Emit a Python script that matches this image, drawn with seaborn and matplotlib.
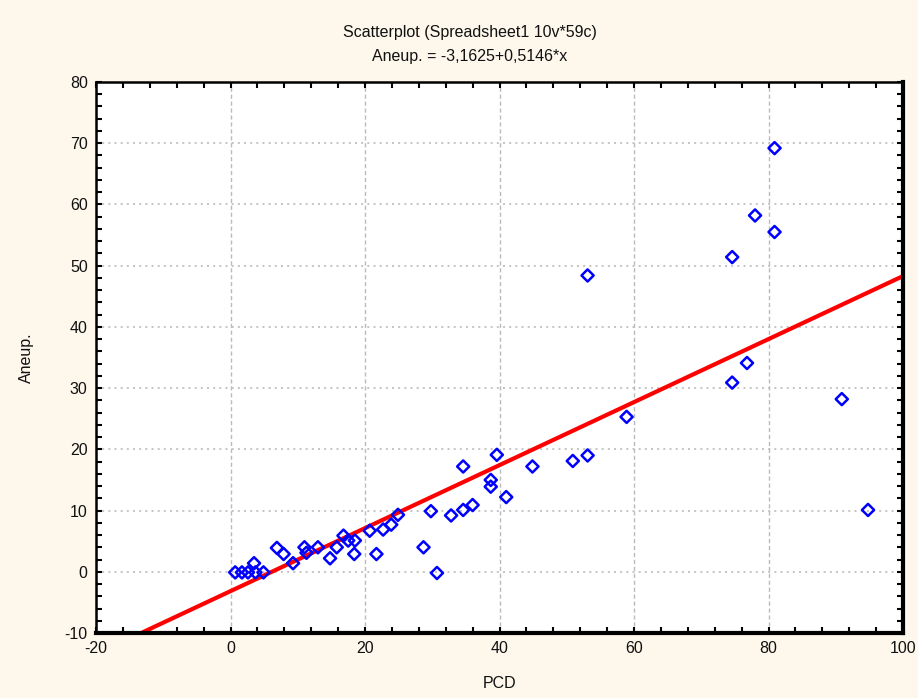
import numpy as np
import pandas as pd
import matplotlib
matplotlib.use("Agg")
import matplotlib.pyplot as plt
from matplotlib.ticker import MultipleLocator
import seaborn as sns

# ---- data ----
pcd = [0.7, 1.7, 2.6, 3.5, 3.7, 4.9, 6.9, 7.9, 9.3, 11.0, 11.3, 13.0, 14.8, 15.8,
       16.8, 17.5, 18.5, 18.4, 20.7, 21.7, 22.7, 23.9, 24.9, 28.7, 29.8, 30.7,
       32.8, 34.6, 36.0, 34.6, 38.7, 38.7, 39.6, 41.0, 44.9, 50.9, 53.1, 53.1,
       58.9, 74.6, 74.6, 76.8, 78.0, 80.9, 80.9, 90.9, 94.8]
aneup = [-0.1, -0.1, -0.1, 1.4, -0.1, -0.1, 3.9, 2.9, 1.4, 4.0, 3.1, 4.0, 2.2, 4.0,
         5.9, 5.1, 5.1, 2.9, 6.7, 2.9, 6.9, 7.7, 9.3, 4.0, 9.9, -0.2,
         9.2, 10.1, 10.9, 17.2, 15.0, 13.9, 19.1, 12.2, 17.2, 18.1, 19.0, 48.4,
         25.3, 51.4, 30.9, 34.1, 58.2, 69.2, 55.5, 28.2, 10.1]
intercept = -3.1625
slope = 0.5146
x_ticks = [-20, 0, 20, 40, 60, 80, 100]
y_ticks = [-10, 0, 10, 20, 30, 40, 50, 60, 70, 80]
title_lines = ["Scatterplot (Spreadsheet1 10v*59c)", "Aneup. = -3,1625+0,5146*x"]

df = pd.DataFrame({"PCD": pcd, "Aneup.": aneup})
x_fit = np.linspace(-20, 100, 400)
fit = pd.DataFrame({"PCD": x_fit, "Aneup.": intercept + slope * x_fit})
fit = fit[fit["Aneup."] >= -10]

sns.set_style("white")
plt.rcParams["font.family"] = ["Liberation Sans", "DejaVu Sans"]
plt.rcParams["axes.unicode_minus"] = False
plt.rcParams["text.color"] = "#111111"
plt.rcParams["axes.labelcolor"] = "#111111"
plt.rcParams["xtick.labelcolor"] = "#111111"
plt.rcParams["ytick.labelcolor"] = "#111111"

bg = "#FDF7EC"
fig = plt.figure(figsize=(9.18, 6.98), dpi=100, facecolor=bg)
ax = fig.add_axes([96 / 918, 1 - 633 / 698, (903 - 96) / 918, (633 - 82) / 698])
ax.set_facecolor("white")

sns.lineplot(data=fit, x="PCD", y="Aneup.", ax=ax, color="#FF0000", linewidth=3,
             zorder=2)
sns.scatterplot(data=df, x="PCD", y="Aneup.", ax=ax, marker="D", s=38,
                facecolors="none", edgecolor="#0000FF", linewidth=1.8, zorder=3)

ax.set_xlim(-20, 100)
ax.set_ylim(-10, 80)
ax.set_xticks(x_ticks)
ax.set_yticks(y_ticks)
ax.xaxis.set_minor_locator(MultipleLocator(4))
ax.yaxis.set_minor_locator(MultipleLocator(2))
ax.tick_params(axis="both", which="both", direction="in", top=True, right=True,
               bottom=True, left=True, color="black")
ax.tick_params(which="major", length=4, width=1.5, labelsize=11.5, pad=6)
ax.tick_params(which="minor", length=4, width=1.5)
ax.xaxis.grid(True, which="major", color="#BBBBBB", linestyle=(0, (3, 2)), linewidth=1)
ax.yaxis.grid(True, which="major", color="#BBBBBB", linestyle=(0, (1.2, 2.5)), linewidth=1.2)

for side in ["left", "top"]:
    ax.spines[side].set_linewidth(1.8)
for side in ["right", "bottom"]:
    ax.spines[side].set_linewidth(3)
for s in ax.spines.values():
    s.set_color("black")
    s.set_visible(True)

ax.set_xlabel("PCD", fontsize=11.5, labelpad=14)
ax.set_ylabel("Aneup.", fontsize=11.5, labelpad=22)

fig.text(470 / 918, 1 - 33 / 698, title_lines[0], ha="center", va="center", fontsize=11.5)
fig.text(470 / 918, 1 - 57 / 698, title_lines[1], ha="center", va="center", fontsize=11.5)

fig.savefig("out.png", dpi=100, facecolor=bg)
